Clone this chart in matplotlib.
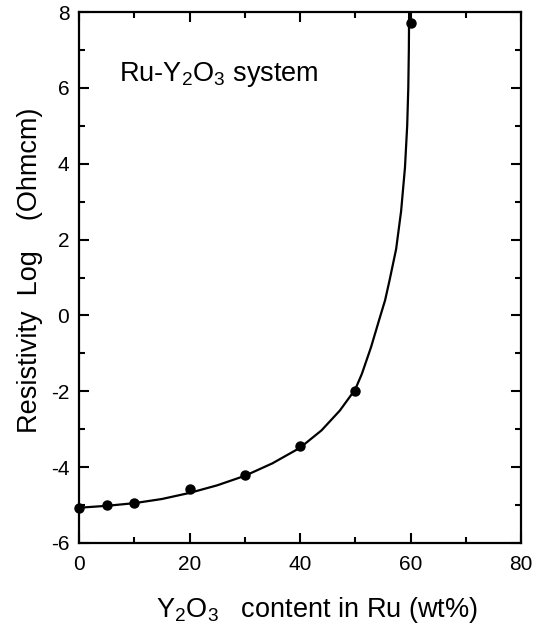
import numpy as np
import matplotlib
matplotlib.use("Agg")
import matplotlib.pyplot as plt
from matplotlib.ticker import MultipleLocator

# measured points (wt% Y2O3, log resistivity)
content = [0, 5, 10, 20, 30, 40, 50, 60]
log_rho = [-5.08, -5.0, -4.95, -4.58, -4.2, -3.44, -1.98, 7.72]

# fitted curve
curve_x = [0, 5, 10, 15, 20, 25, 30, 35, 40, 43.9, 47.2, 50, 51.2, 52.85,
           54.3, 55.4, 56.2, 57.4, 58.3, 59.0, 59.4, 59.6, 59.7, 59.75]
curve_y = [-5.07, -5.02, -4.95, -4.84, -4.68, -4.48, -4.23, -3.9, -3.49,
           -3.03, -2.51, -1.95, -1.54, -0.84, -0.13, 0.40, 0.92, 1.75,
           2.75, 3.9, 5.0, 6.0, 7.0, 8.0]

plt.rcParams['font.family'] = ['Liberation Sans', 'DejaVu Sans']
plt.rcParams['mathtext.fontset'] = 'custom'
plt.rcParams['mathtext.rm'] = 'Liberation Sans'
plt.rcParams['mathtext.it'] = 'Liberation Sans'
plt.rcParams['axes.unicode_minus'] = False

fig = plt.figure(figsize=(5.42, 6.28), dpi=100)
ax = fig.add_axes([79 / 542, 1 - 543 / 628, 442 / 542, 531 / 628])

ax.plot(curve_x, curve_y, color='black', lw=1.6, solid_capstyle='butt')
ax.plot(content, log_rho, 'o', color='black', ms=6.5, clip_on=False, zorder=3)

ax.set_xlim(0, 80)
ax.set_ylim(-6, 8)
ax.xaxis.set_major_locator(MultipleLocator(20))
ax.xaxis.set_minor_locator(MultipleLocator(10))
ax.yaxis.set_major_locator(MultipleLocator(2))
ax.yaxis.set_minor_locator(MultipleLocator(1))
ax.tick_params(which='both', direction='in', top=True, right=True,
               width=1.5, labelsize=15)
ax.tick_params(which='major', length=7)
ax.tick_params(which='minor', length=4)
ax.tick_params(axis='x', which='major', pad=9)
ax.tick_params(axis='y', which='major', pad=7)
for s in ax.spines.values():
    s.set_linewidth(1.6)

ax.text(7.2, 6.35, r'Ru-Y$_\mathrm{2}$O$_\mathrm{3}$ system', fontsize=19.5,
        va='center', ha='left')

fig.text(317 / 542, 1 - 610 / 628,
         r'Y$_\mathrm{2}$O$_\mathrm{3}$   content in Ru (wt%)',
         fontsize=19.5, ha='center', va='center')
fig.text(30 / 542, 1 - 270 / 628, 'Resistivity  Log    (Ohmcm)',
         fontsize=19.5, ha='center', va='center', rotation=90)

fig.savefig('out.png', dpi=100)
